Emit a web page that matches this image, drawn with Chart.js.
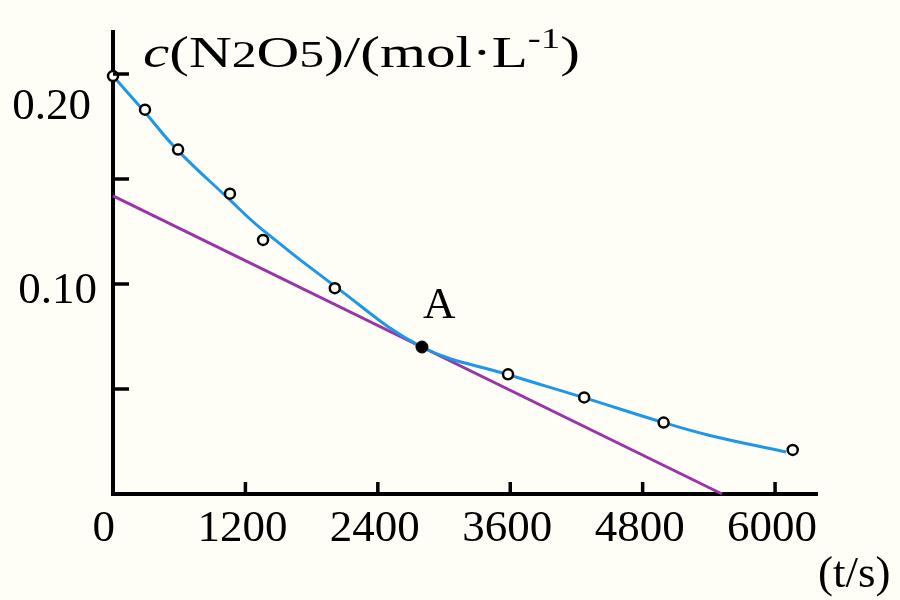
<!DOCTYPE html>
<html>
<head>
<meta charset="utf-8">
<script src="https://cdn.jsdelivr.net/npm/chart.js@4/dist/chart.umd.min.js"></script>
<style>
  html, body { margin: 0; padding: 0; background: #fffef6; }
</style>
</head>
<body>
<canvas id="chart" width="900" height="600"></canvas>
<script>
// measured samples (t in s, c in mol/L)
const sampleT = [0, 290, 590, 1060, 1360, 2010, 3580, 4270, 4990, 6160];
const sampleC = [0.199, 0.183, 0.164, 0.143, 0.121, 0.098, 0.057, 0.046, 0.034, 0.021];

// point A on the curve
const pointAT = [2800];
const pointAC = [0.070];

// hand-drawn fitted curve
const curveT = [0, 270, 580, 1040, 1350, 2010, 2800, 3570, 4260, 4990, 5400, 6100];
const curveC = [0.199, 0.183, 0.164, 0.141, 0.126, 0.099, 0.070, 0.057, 0.046, 0.034, 0.028, 0.020];

// tangent at A
const tangentT = [0, 5520];
const tangentC = [0.142, 0];

const xTickValues = [0, 1200, 2400, 3600, 4800, 6000];
const yTickValues = [0.05, 0.10, 0.15, 0.20];
const yLabelValues = [0.10, 0.20];

const serif = '"Liberation Serif", "DejaVu Serif", serif';

function pts(xs, ys) {
  return xs.map((x, i) => ({ x: x, y: ys[i] }));
}

function drawTitle(ctx) {
  const parts = [
    { t: 'c', f: 'italic 44px ' + serif, dy: 0 },
    { t: '(N', f: '44px ' + serif, dy: 0 },
    { t: '2', f: '37px ' + serif, dy: 0 },
    { t: 'O', f: '44px ' + serif, dy: 0 },
    { t: '5', f: '37px ' + serif, dy: 0 },
    { t: ')/(mol·L', f: '44px ' + serif, dy: 0 },
    { t: '-1', f: '29px ' + serif, dy: -19 },
    { t: ')', f: '44px ' + serif, dy: 0 }
  ];
  let total = 0;
  parts.forEach(p => { ctx.font = p.f; p.w = ctx.measureText(p.t).width; total += p.w; });
  const sx = 437 / total;
  ctx.save();
  ctx.translate(143, 67);
  ctx.scale(sx, 1);
  ctx.fillStyle = '#000';
  ctx.textBaseline = 'alphabetic';
  ctx.textAlign = 'left';
  let x = 0;
  parts.forEach(p => { ctx.font = p.f; ctx.fillText(p.t, x, p.dy); x += p.w; });
  ctx.restore();
}

const axisDecor = {
  id: 'axisDecor',
  afterDraw(chart) {
    const ctx = chart.ctx;
    const xs = chart.scales.x, ys = chart.scales.y;
    const area = chart.chartArea;
    ctx.save();
    ctx.strokeStyle = '#000';
    ctx.fillStyle = '#000';
    ctx.lineWidth = 3.5;

    // inward tick marks
    xTickValues.forEach(v => {
      if (v === 0) return;
      const px = xs.getPixelForValue(v);
      ctx.beginPath();
      ctx.moveTo(px, area.bottom);
      ctx.lineTo(px, area.bottom - 12);
      ctx.stroke();
    });
    yTickValues.forEach(v => {
      const py = ys.getPixelForValue(v);
      ctx.beginPath();
      ctx.moveTo(area.left, py);
      ctx.lineTo(area.left + 16, py);
      ctx.stroke();
    });

    // tick labels
    ctx.font = '45px ' + serif;
    ctx.textBaseline = 'alphabetic';
    xTickValues.forEach(v => {
      const px = xs.getPixelForValue(v);
      if (v === 0) {
        ctx.textAlign = 'right';
        ctx.fillText('0', px + 2, area.bottom + 47);
      } else {
        ctx.textAlign = 'center';
        ctx.fillText(String(v), px - 3, area.bottom + 47);
      }
    });
    ctx.textAlign = 'right';
    yLabelValues.forEach(v => {
      const py = ys.getPixelForValue(v);
      const shift = v > 0.15 ? 45 : 19;
      const rx = v > 0.15 ? area.left - 22 : area.left - 16;
      ctx.fillText(v.toFixed(2), rx, py + shift);
    });

    // axis unit and point label
    ctx.textAlign = 'left';
    ctx.fillText('(t/s)', 818, 587);
    const ax = xs.getPixelForValue(pointAT[0]);
    const ay = ys.getPixelForValue(pointAC[0]);
    ctx.fillText('A', ax + 1, ay - 29);

    drawTitle(ctx);
    ctx.restore();
  }
};

new Chart(document.getElementById('chart').getContext('2d'), {
  type: 'scatter',
  data: {
    datasets: [
      {
        label: 'A',
        data: pts(pointAT, pointAC),
        pointRadius: 6,
        pointBackgroundColor: '#000',
        pointBorderColor: '#000',
        pointBorderWidth: 1,
        showLine: false,
        clip: false
      },
      {
        label: 'samples',
        data: pts(sampleT, sampleC),
        pointRadius: 5,
        pointBackgroundColor: '#fffef6',
        pointBorderColor: '#000',
        pointBorderWidth: 2.5,
        showLine: false,
        clip: false
      },
      {
        label: 'curve',
        data: pts(curveT, curveC),
        showLine: true,
        borderColor: '#1f97e6',
        borderWidth: 3,
        pointRadius: 0,
        tension: 0.4,
        clip: false
      },
      {
        label: 'tangent',
        data: pts(tangentT, tangentC),
        showLine: true,
        borderColor: '#9a35a8',
        borderWidth: 3,
        pointRadius: 0,
        clip: false
      }
    ]
  },
  options: {
    responsive: false,
    animation: false,
    layout: { padding: { left: 113, right: 83, top: 32, bottom: 106 } },
    plugins: { legend: { display: false }, tooltip: { enabled: false } },
    scales: {
      x: {
        type: 'linear', min: 0, max: 6380,
        grid: { display: true, drawOnChartArea: false, drawTicks: false },
        border: { display: true, color: '#000', width: 4 },
        ticks: { display: false }
      },
      y: {
        type: 'linear', min: 0, max: 0.22,
        grid: { display: true, drawOnChartArea: false, drawTicks: false },
        border: { display: true, color: '#000', width: 4 },
        ticks: { display: false }
      }
    }
  },
  plugins: [axisDecor]
});
</script>
</body>
</html>
